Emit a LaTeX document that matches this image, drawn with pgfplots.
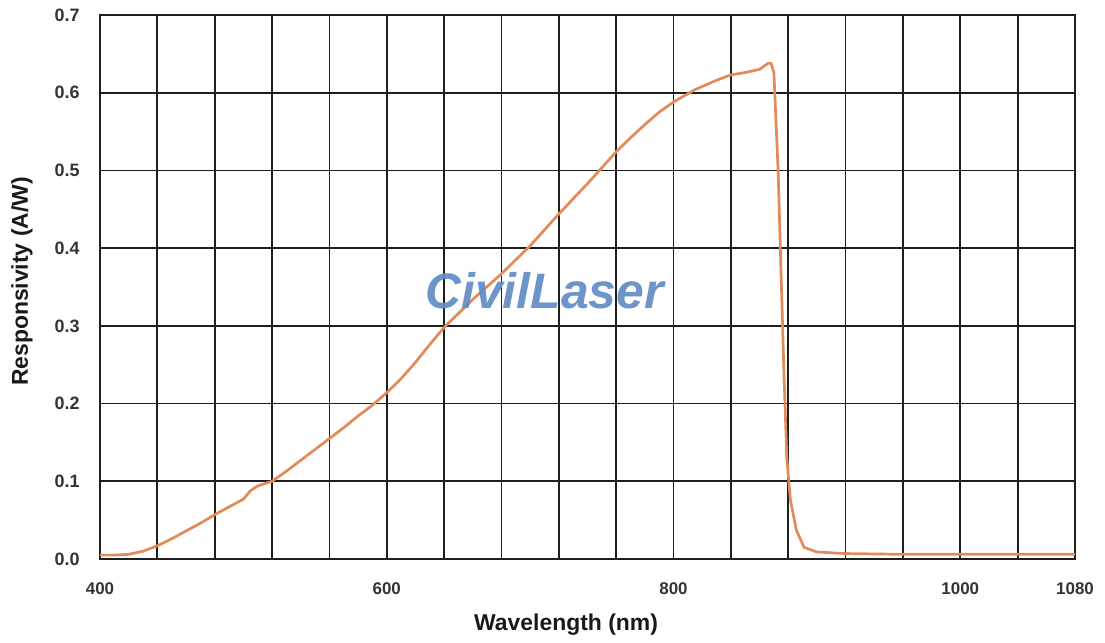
\documentclass[border=0pt]{standalone}
\usepackage{fontspec}
\setmainfont{Liberation Sans}
\usepackage{pgfplots}
\pgfplotsset{compat=1.18}
\usetikzlibrary{calc}
\definecolor{curve}{RGB}{226,138,88}
\definecolor{wm}{RGB}{98,140,198}
\definecolor{gridc}{RGB}{30,30,30}

\begin{document}
\begin{tikzpicture}
\begin{axis}[
    scale only axis,
    width=975bp, height=544bp,
    xmin=400, xmax=1080, ymin=0, ymax=0.7,
    xtick={400,600,800,1000,1080},
    minor xtick={440,480,...,1040},
    ytick={0,0.1,0.2,0.3,0.4,0.5,0.6,0.7},
    xmajorgrids, xminorgrids, ymajorgrids,
    major grid style={gridc, line width=1.8bp},
    minor grid style={gridc, line width=1.8bp},
    axis line style={gridc, line width=2bp},
    major tick length=0pt, minor tick length=0pt,
    /pgf/number format/assume math mode=true,
    yticklabel style={font=\fontsize{18}{20}\selectfont\bfseries, text=black!80,
        /pgf/number format/fixed, /pgf/number format/fixed zerofill,
        /pgf/number format/precision=1, xshift=-17bp},
    xticklabel style={font=\fontsize{17}{20}\selectfont\bfseries, text=black!80,
        /pgf/number format/1000 sep={}, yshift=-20bp},
    xlabel={Wavelength (nm)},
    ylabel={Responsivity (A/W)},
    label style={font=\fontsize{23}{26}\selectfont\bfseries, text=black!90},
    xlabel style={at={(rel axis cs:0.478,0)}, anchor=center, yshift=-66bp},
    ylabel style={at={(rel axis cs:0,0.51)}, anchor=center, yshift=78bp},
]
\addplot[curve, line width=2.7bp, line join=round] table {
x y
400 0.005
410 0.005
420 0.006
430 0.010
440 0.017
450 0.026
460 0.036
470 0.046
480 0.057
490 0.067
500 0.077
505 0.088
510 0.094
520 0.100
530 0.113
540 0.127
550 0.141
560 0.155
570 0.169
580 0.184
590 0.198
600 0.214
610 0.232
620 0.253
630 0.276
640 0.298
650 0.316
660 0.334
680 0.367
700 0.403
720 0.444
740 0.483
760 0.524
770 0.542
780 0.559
790 0.575
800 0.588
815 0.604
830 0.616
840 0.623
850 0.626
860 0.630
866 0.638
868 0.638
870 0.626
873 0.497
875 0.368
877 0.239
879 0.131
881.5 0.076
885.7 0.037
891 0.015
900 0.009
920 0.007
960 0.006
1000 0.006
1080 0.006
};
\node[font=\fontsize{50}{50}\selectfont\bfseries\itshape, text=wm, opacity=0.92]
    at (axis cs:710,0.345) {CivilLaser};
\coordinate (ll) at (rel axis cs:0,0);
\coordinate (ur) at (rel axis cs:1,1);
\end{axis}
\pgfresetboundingbox
\path[use as bounding box] ($(ll)+(-100bp,-84bp)$) rectangle ($(ur)+(30bp,15bp)$);
\end{tikzpicture}
\end{document}
